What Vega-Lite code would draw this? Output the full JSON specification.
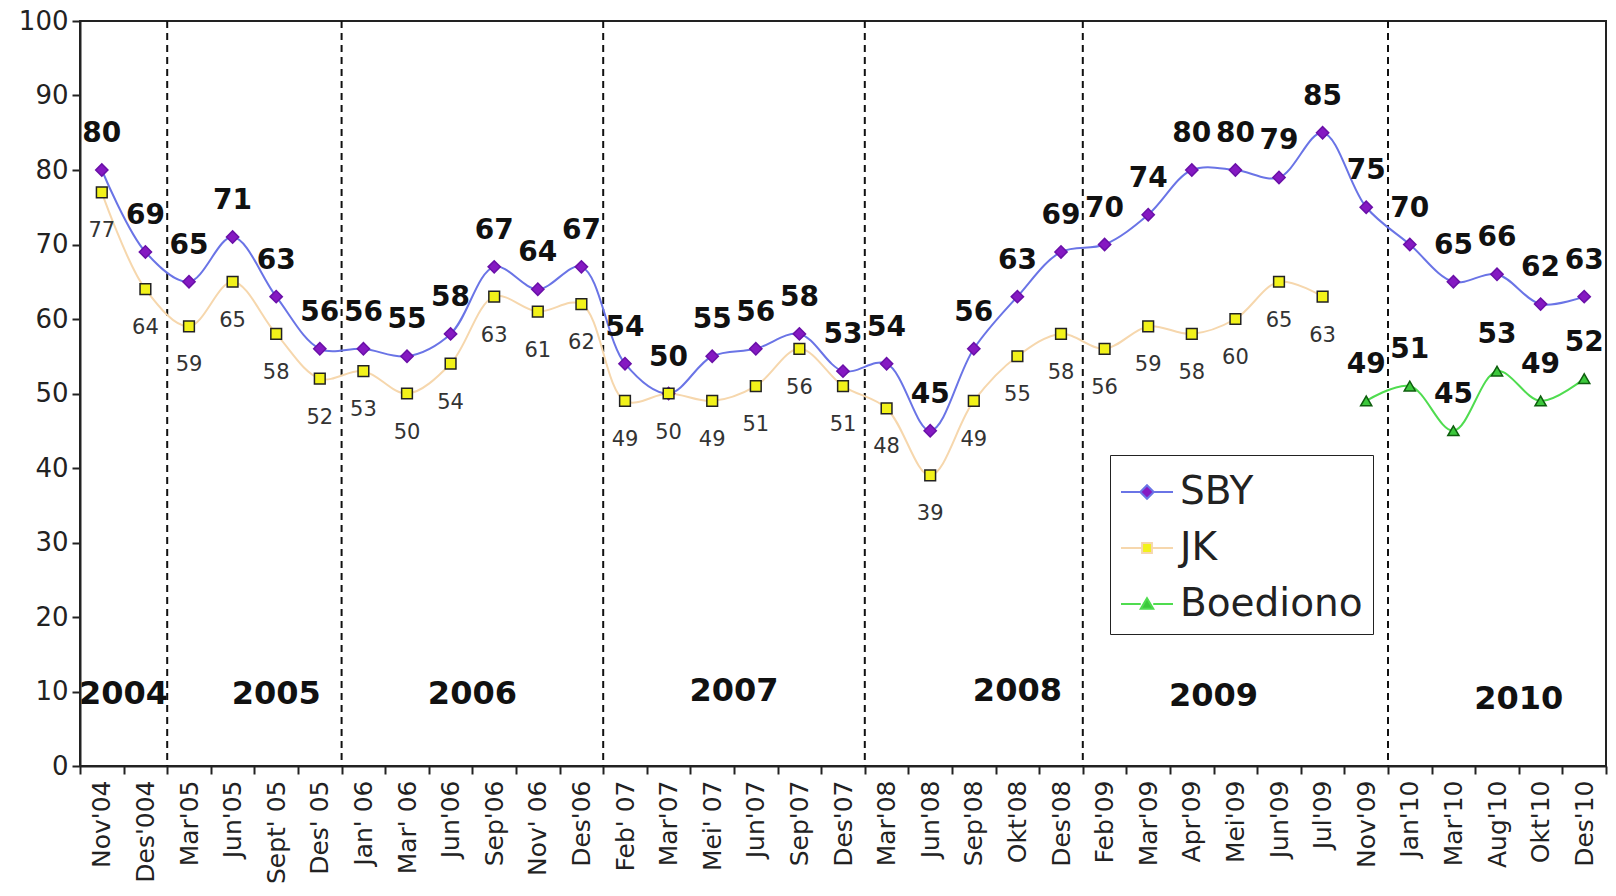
{
  "$schema": "https://vega.github.io/schema/vega-lite/v6.json",
  "width": 1526,
  "height": 745,
  "autosize": "none",
  "padding": {"left": 80, "top": 21, "right": 10, "bottom": 130},
  "background": "white",
  "config": {
    "font": "DejaVu Sans",
    "view": {"stroke": "#222", "strokeWidth": 2},
    "axis": {"grid": false, "domainColor": "#222", "domainWidth": 2, "tickColor": "#222", "tickWidth": 2, "labelColor": "#222", "title": null}
  },
  "datasets": {
    "ratings": [
      {"period": "Nov'04", "series": "SBY", "value": 80},
      {"period": "Des'004", "series": "SBY", "value": 69},
      {"period": "Mar'05", "series": "SBY", "value": 65},
      {"period": "Jun'05", "series": "SBY", "value": 71},
      {"period": "Sept' 05", "series": "SBY", "value": 63},
      {"period": "Des' 05", "series": "SBY", "value": 56},
      {"period": "Jan' 06", "series": "SBY", "value": 56},
      {"period": "Mar' 06", "series": "SBY", "value": 55},
      {"period": "Jun'06", "series": "SBY", "value": 58},
      {"period": "Sep'06", "series": "SBY", "value": 67},
      {"period": "Nov' 06", "series": "SBY", "value": 64},
      {"period": "Des'06", "series": "SBY", "value": 67},
      {"period": "Feb' 07", "series": "SBY", "value": 54},
      {"period": "Mar'07", "series": "SBY", "value": 50},
      {"period": "Mei' 07", "series": "SBY", "value": 55},
      {"period": "Jun'07", "series": "SBY", "value": 56},
      {"period": "Sep'07", "series": "SBY", "value": 58},
      {"period": "Des'07", "series": "SBY", "value": 53},
      {"period": "Mar'08", "series": "SBY", "value": 54},
      {"period": "Jun'08", "series": "SBY", "value": 45},
      {"period": "Sep'08", "series": "SBY", "value": 56},
      {"period": "Okt'08", "series": "SBY", "value": 63},
      {"period": "Des'08", "series": "SBY", "value": 69},
      {"period": "Feb'09", "series": "SBY", "value": 70},
      {"period": "Mar'09", "series": "SBY", "value": 74},
      {"period": "Apr'09", "series": "SBY", "value": 80},
      {"period": "Mei'09", "series": "SBY", "value": 80},
      {"period": "Jun'09", "series": "SBY", "value": 79},
      {"period": "Jul'09", "series": "SBY", "value": 85},
      {"period": "Nov'09", "series": "SBY", "value": 75},
      {"period": "Jan'10", "series": "SBY", "value": 70},
      {"period": "Mar'10", "series": "SBY", "value": 65},
      {"period": "Aug'10", "series": "SBY", "value": 66},
      {"period": "Okt'10", "series": "SBY", "value": 62},
      {"period": "Des'10", "series": "SBY", "value": 63},
      {"period": "Nov'04", "series": "JK", "value": 77},
      {"period": "Des'004", "series": "JK", "value": 64},
      {"period": "Mar'05", "series": "JK", "value": 59},
      {"period": "Jun'05", "series": "JK", "value": 65},
      {"period": "Sept' 05", "series": "JK", "value": 58},
      {"period": "Des' 05", "series": "JK", "value": 52},
      {"period": "Jan' 06", "series": "JK", "value": 53},
      {"period": "Mar' 06", "series": "JK", "value": 50},
      {"period": "Jun'06", "series": "JK", "value": 54},
      {"period": "Sep'06", "series": "JK", "value": 63},
      {"period": "Nov' 06", "series": "JK", "value": 61},
      {"period": "Des'06", "series": "JK", "value": 62},
      {"period": "Feb' 07", "series": "JK", "value": 49},
      {"period": "Mar'07", "series": "JK", "value": 50},
      {"period": "Mei' 07", "series": "JK", "value": 49},
      {"period": "Jun'07", "series": "JK", "value": 51},
      {"period": "Sep'07", "series": "JK", "value": 56},
      {"period": "Des'07", "series": "JK", "value": 51},
      {"period": "Mar'08", "series": "JK", "value": 48},
      {"period": "Jun'08", "series": "JK", "value": 39},
      {"period": "Sep'08", "series": "JK", "value": 49},
      {"period": "Okt'08", "series": "JK", "value": 55},
      {"period": "Des'08", "series": "JK", "value": 58},
      {"period": "Feb'09", "series": "JK", "value": 56},
      {"period": "Mar'09", "series": "JK", "value": 59},
      {"period": "Apr'09", "series": "JK", "value": 58},
      {"period": "Mei'09", "series": "JK", "value": 60},
      {"period": "Jun'09", "series": "JK", "value": 65},
      {"period": "Jul'09", "series": "JK", "value": 63},
      {"period": "Nov'09", "series": "Boediono", "value": 49},
      {"period": "Jan'10", "series": "Boediono", "value": 51},
      {"period": "Mar'10", "series": "Boediono", "value": 45},
      {"period": "Aug'10", "series": "Boediono", "value": 53},
      {"period": "Okt'10", "series": "Boediono", "value": 49},
      {"period": "Des'10", "series": "Boediono", "value": 52}
    ],
    "yearStarts": [
      {"period": "Mar'05"},
      {"period": "Jan' 06"},
      {"period": "Feb' 07"},
      {"period": "Mar'08"},
      {"period": "Feb'09"},
      {"period": "Jan'10"}
    ],
    "years": [
      {"year": "2004", "period": "Des'004", "level": 9.7},
      {"year": "2005", "period": "Sept' 05", "level": 9.7},
      {"year": "2006", "period": "Sep'06", "level": 9.7},
      {"year": "2007", "period": "Jun'07", "level": 10.1},
      {"year": "2008", "period": "Okt'08", "level": 10.1},
      {"year": "2009", "period": "Mei'09", "level": 9.4},
      {"year": "2010", "period": "Okt'10", "level": 9.0}
    ]
  },
  "encoding": {
    "x": {
      "field": "period",
      "type": "nominal",
      "scale": {
        "domain": ["Nov'04", "Des'004", "Mar'05", "Jun'05", "Sept' 05", "Des' 05", "Jan' 06", "Mar' 06", "Jun'06", "Sep'06", "Nov' 06", "Des'06", "Feb' 07", "Mar'07", "Mei' 07", "Jun'07", "Sep'07", "Des'07", "Mar'08", "Jun'08", "Sep'08", "Okt'08", "Des'08", "Feb'09", "Mar'09", "Apr'09", "Mei'09", "Jun'09", "Jul'09", "Nov'09", "Jan'10", "Mar'10", "Aug'10", "Okt'10", "Des'10"],
        "paddingInner": 0,
        "paddingOuter": 0
      },
      "axis": {"labelAngle": -90, "labelFontSize": 25, "tickBand": "extent", "tickSize": 8, "labelPadding": 6}
    }
  },
  "layer": [
    {
      "data": {"name": "yearStarts"},
      "mark": {"type": "rule", "color": "#111", "strokeWidth": 2, "strokeDash": [7, 5]},
      "encoding": {"x": {"field": "period", "type": "nominal", "bandPosition": 0}}
    },
    {
      "data": {"name": "years"},
      "transform": [{"filter": "datum.year !== '2005' && datum.year !== '2008'"}],
      "mark": {"type": "text", "font": "DejaVu Sans", "fontWeight": "bold", "fontSize": 32, "color": "#111", "baseline": "middle", "align": "center"},
      "encoding": {
        "x": {"field": "period", "type": "nominal", "bandPosition": 0},
        "y": {"field": "level", "type": "quantitative"},
        "text": {"field": "year"}
      }
    },
    {
      "data": {"name": "years"},
      "transform": [{"filter": "datum.year === '2005' || datum.year === '2008'"}],
      "mark": {"type": "text", "font": "DejaVu Sans", "fontWeight": "bold", "fontSize": 32, "color": "#111", "baseline": "middle", "align": "center"},
      "encoding": {
        "y": {"field": "level", "type": "quantitative"},
        "text": {"field": "year"}
      }
    },
    {
      "data": {"name": "ratings"},
      "mark": {"type": "line", "interpolate": "catmull-rom", "strokeWidth": 2},
      "encoding": {
        "y": {"field": "value", "type": "quantitative", "scale": {"domain": [0, 100]}, "axis": {"values": [0, 10, 20, 30, 40, 50, 60, 70, 80, 90, 100], "labelFontSize": 26, "tickSize": 8, "labelPadding": 4}},
        "color": {
          "field": "series",
          "type": "nominal",
          "scale": {"domain": ["SBY", "JK", "Boediono"], "range": ["#6a74e6", "#f6d7ad", "#4fdc4f"]},
          "legend": {
            "title": null,
            "orient": "none",
            "legendX": 1030,
            "legendY": 434,
            "direction": "vertical",
            "labelFontSize": 39,
            "labelColor": "#222",
            "labelFont": "DejaVu Sans",
            "labelLimit": 0,
            "symbolSize": 2700,
            "symbolStrokeWidth": 2,
            "symbolType": "M-1,0L1,0",
            "rowPadding": 9,
            "labelOffset": 6,
            "padding": 10,
            "strokeColor": "#222",
            "fillColor": "white",
            "encode": {
              "symbols": {
                "update": {
                  "shape": {"signal": "datum.value === 'SBY' ? 'M-1,0L-0.26,0M0.26,0L1,0M0,-0.26L0.26,0L0,0.26L-0.26,0Z' : datum.value === 'JK' ? 'M-1,0L-0.19,0M0.19,0L1,0M-0.19,-0.19L0.19,-0.19L0.19,0.19L-0.19,0.19Z' : 'M-1,0L-0.24,0M0.24,0L1,0M0,-0.22L0.24,0.18L-0.24,0.18Z'"},
                  "fill": {"signal": "datum.value === 'SBY' ? '#8519c2' : datum.value === 'JK' ? '#f2f21a' : '#3cc83c'"},
                  "fillOpacity": {"value": 1},
                  "strokeWidth": {"value": 2}
                }
              }
            }
          }
        },
        "detail": {"field": "series"}
      }
    },
    {
      "data": {"name": "ratings"},
      "transform": [{"filter": "datum.series === 'SBY'"}],
      "mark": {"type": "point", "shape": "diamond", "filled": true, "opacity": 1, "fill": "#8519c2", "stroke": "#6a10a8", "strokeWidth": 1.5, "size": 150},
      "encoding": {"y": {"field": "value", "type": "quantitative"}}
    },
    {
      "data": {"name": "ratings"},
      "transform": [{"filter": "datum.series === 'JK'"}],
      "mark": {"type": "point", "shape": "square", "filled": true, "opacity": 1, "fill": "#f2f21a", "stroke": "#222222", "strokeWidth": 1.5, "size": 115},
      "encoding": {"y": {"field": "value", "type": "quantitative"}}
    },
    {
      "data": {"name": "ratings"},
      "transform": [{"filter": "datum.series === 'Boediono'"}],
      "mark": {"type": "point", "shape": "triangle-up", "filled": true, "opacity": 1, "fill": "#3cc83c", "stroke": "#0e5e0e", "strokeWidth": 1.5, "size": 125},
      "encoding": {"y": {"field": "value", "type": "quantitative"}}
    },
    {
      "data": {"name": "ratings"},
      "transform": [{"filter": "datum.series !== 'JK'"}],
      "mark": {"type": "text", "font": "DejaVu Sans", "fontWeight": "bold", "fontSize": 28, "color": "#111", "dy": -36, "baseline": "middle"},
      "encoding": {
        "y": {"field": "value", "type": "quantitative"},
        "text": {"field": "value", "type": "quantitative"}
      }
    },
    {
      "data": {"name": "ratings"},
      "transform": [{"filter": "datum.series === 'JK'"}],
      "mark": {"type": "text", "font": "DejaVu Sans", "fontSize": 21, "color": "#333", "dy": 39, "baseline": "middle"},
      "encoding": {
        "y": {"field": "value", "type": "quantitative"},
        "text": {"field": "value", "type": "quantitative"}
      }
    }
  ]
}
